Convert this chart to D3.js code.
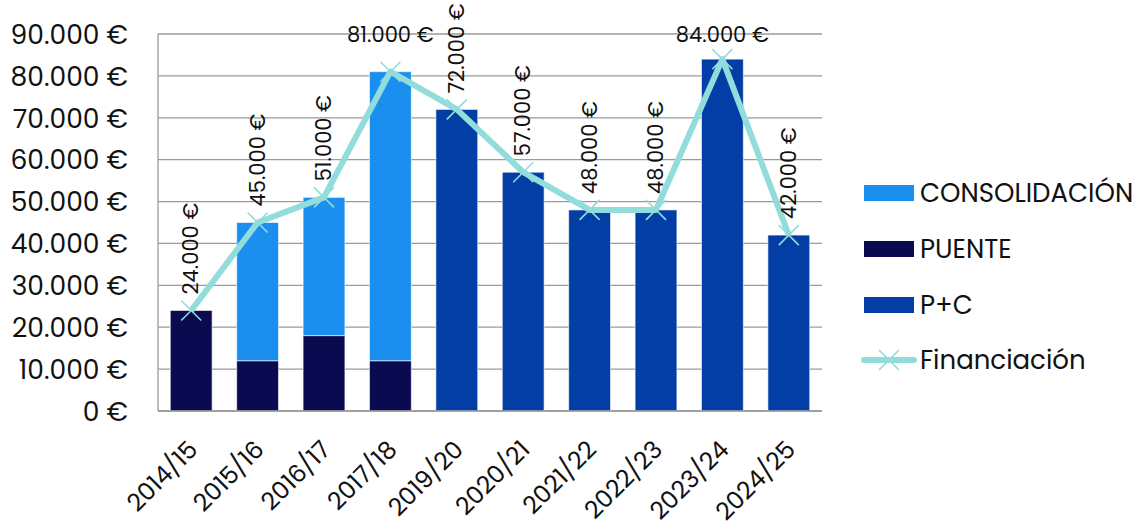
<!DOCTYPE html>
<html><head><meta charset="utf-8">
<script src="https://cdn.jsdelivr.net/npm/d3@7"></script>
<style>body{margin:0;background:#fff;} svg{display:block;font-family:"Poppins","Noto Sans",sans-serif;}</style>
</head><body><svg id="c" width="1145" height="531"></svg>
<script>
const categories = ["2014/15","2015/16","2016/17","2017/18","2019/20","2020/21","2021/22","2022/23","2023/24","2024/25"];
const puente = [24000,12000,18000,12000,0,0,0,0,0,0];
const consolidacion = [0,33000,33000,69000,0,0,0,0,0,0];
const pc = [0,0,0,0,72000,57000,48000,48000,84000,42000];
const financiacion = [24000,45000,51000,81000,72000,57000,48000,48000,84000,42000];
const yTicks = [0,10000,20000,30000,40000,50000,60000,70000,80000,90000];
const seriesNames = ["CONSOLIDACIÓN","PUENTE","P+C","Financiación"];
const colors = {"CONSOLIDACIÓN":"#1b8ff0","PUENTE":"#0a0a50","P+C":"#023ea6","Financiación":"#93dcdc"};

const fmt = v => d3.format(",")(v).replace(/,/g,".") + " €";
const svg = d3.select("#c");
const L=158,R=822,T=34,B=411;
const x = d3.scaleBand().domain(categories).range([L,R]).paddingInner(0.37).paddingOuter(0.185);
const y = d3.scaleLinear().domain([0,90000]).range([B,T]);

// grid
svg.append("g").selectAll("line").data(yTicks).join("line")
  .attr("x1",L).attr("x2",R).attr("y1",d=>y(d)).attr("y2",d=>y(d))
  .attr("stroke","#9a9a9a").attr("stroke-width",1.3);
svg.append("line").attr("x1",L).attr("x2",L).attr("y1",T).attr("y2",B).attr("stroke","#9a9a9a").attr("stroke-width",1.3);

// y axis labels
const ya = svg.append("g").attr("transform",`translate(${L-30},0)`).call(d3.axisLeft(y).tickValues(yTicks).tickFormat(fmt).tickSize(0).tickPadding(0));
ya.select(".domain").remove();
ya.selectAll("text").attr("font-size",26.5).attr("fill","#111").attr("font-family","Poppins, Noto Sans, sans-serif").attr("dy","0.35em");

// stacked bars
const rows = categories.map((c,i)=>({cat:c,"PUENTE":puente[i],"CONSOLIDACIÓN":consolidacion[i],"P+C":pc[i]}));
const stack = d3.stack().keys(["PUENTE","CONSOLIDACIÓN","P+C"])(rows);
svg.append("g").selectAll("g").data(stack).join("g").attr("fill",d=>colors[d.key])
  .selectAll("rect").data(d=>d.filter(s=>s[1]-s[0]>0)).join("rect")
  .attr("x",d=>x(d.data.cat)).attr("width",x.bandwidth())
  .attr("y",d=>y(d[1])).attr("height",d=>y(d[0])-y(d[1]))
  .attr("stroke","#ffffff").attr("stroke-opacity",0.6).attr("stroke-width",1);

// x axis
const xa = svg.append("g").attr("transform",`translate(0,${B})`).call(d3.axisBottom(x).tickSize(0).tickPadding(0));
xa.select(".domain").attr("stroke","#9a9a9a").attr("stroke-width",1.3).attr("d",`M${L},0H${R}`);
xa.selectAll("text").attr("font-size",24.5).attr("fill","#111").attr("font-family","Poppins, Noto Sans, sans-serif")
  .attr("text-anchor","end").attr("dy",0).attr("transform","translate(8,40) rotate(-45)");

// line
const cx = c=>x(c)+x.bandwidth()/2;
const line = d3.line().x((d,i)=>cx(categories[i])).y(d=>y(d));
svg.append("path").datum(financiacion).attr("d",line).attr("fill","none")
  .attr("stroke",colors["Financiación"]).attr("stroke-width",6).attr("stroke-linejoin","round");
const mk = 10;
svg.append("g").selectAll("path").data(financiacion).join("path")
  .attr("d",(d,i)=>{const px=cx(categories[i]),py=y(d);return `M${px-mk},${py-mk}L${px+mk},${py+mk}M${px-mk},${py+mk}L${px+mk},${py-mk}`;})
  .attr("stroke",colors["Financiación"]).attr("stroke-width",1.6).attr("fill","none");

// data labels
const lab = svg.append("g").attr("font-size",21).attr("fill","#111");
financiacion.forEach((v,i)=>{
  const px=cx(categories[i]),py=y(v);
  if(v===81000||v===84000){
    lab.append("text").attr("x",px).attr("y",py-(v===81000?30:17)).attr("text-anchor","middle").text(fmt(v));
  } else {
    lab.append("text").attr("transform",`translate(${px+7},${py-16}) rotate(-90)`).attr("text-anchor","start").text(fmt(v));
  }
});

// legend
const lg = svg.append("g").attr("font-size",26).attr("fill","#111");
const ly = [193,249,305,360];
seriesNames.forEach((n,i)=>{
  if(n==="Financiación"){
    lg.append("line").attr("x1",864).attr("x2",914).attr("y1",ly[i]).attr("y2",ly[i]).attr("stroke",colors[n]).attr("stroke-width",6).attr("stroke-linecap","round");
    lg.append("path").attr("d",`M${889-mk},${ly[i]-mk}L${889+mk},${ly[i]+mk}M${889-mk},${ly[i]+mk}L${889+mk},${ly[i]-mk}`).attr("stroke",colors[n]).attr("stroke-width",1.6);
  } else {
    lg.append("rect").attr("x",864).attr("y",ly[i]-8).attr("width",50).attr("height",16).attr("fill",colors[n]);
  }
  lg.append("text").attr("x",920).attr("y",ly[i]).attr("dy","0.35em").text(n);
});
</script></body></html>
